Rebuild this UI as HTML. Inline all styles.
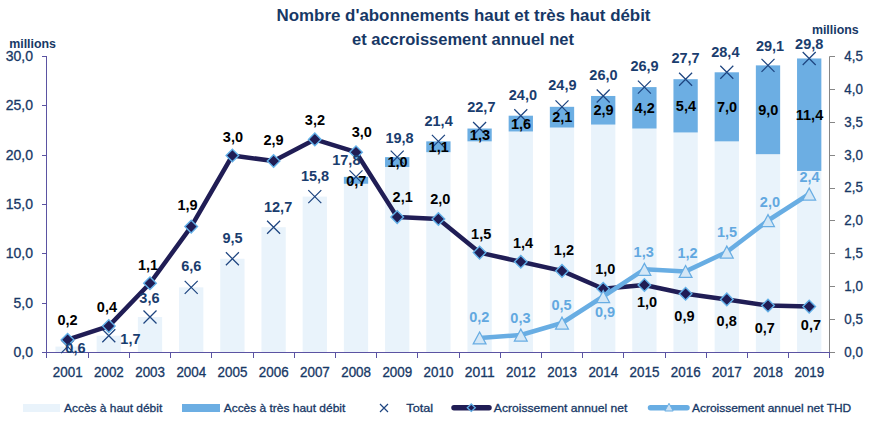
<!DOCTYPE html>
<html><head><meta charset="utf-8"><style>
html,body{margin:0;padding:0;background:#fff;}
svg{display:block;font-family:"Liberation Sans", sans-serif;}
</style></head><body>
<svg width="878" height="429" viewBox="0 0 878 429">
<rect x="55.45" y="346.58" width="24.3" height="5.42" fill="#e9f3fb"/>
<rect x="96.65" y="335.73" width="24.3" height="16.27" fill="#e9f3fb"/>
<rect x="137.85" y="316.98" width="24.3" height="35.02" fill="#e9f3fb"/>
<rect x="179.05" y="287.38" width="24.3" height="64.62" fill="#e9f3fb"/>
<rect x="220.25" y="258.77" width="24.3" height="93.23" fill="#e9f3fb"/>
<rect x="261.45" y="227.19" width="24.3" height="124.81" fill="#e9f3fb"/>
<rect x="302.65" y="196.61" width="24.3" height="155.39" fill="#e9f3fb"/>
<rect x="343.85" y="183.78" width="24.3" height="168.22" fill="#e9f3fb"/>
<rect x="343.85" y="176.87" width="24.3" height="6.91" fill="#6caee3"/>
<rect x="385.05" y="167.01" width="24.3" height="184.99" fill="#e9f3fb"/>
<rect x="385.05" y="157.14" width="24.3" height="9.87" fill="#6caee3"/>
<rect x="426.25" y="152.21" width="24.3" height="199.79" fill="#e9f3fb"/>
<rect x="426.25" y="141.35" width="24.3" height="10.85" fill="#6caee3"/>
<rect x="467.45" y="141.35" width="24.3" height="210.65" fill="#e9f3fb"/>
<rect x="467.45" y="128.53" width="24.3" height="12.83" fill="#6caee3"/>
<rect x="508.65" y="131.49" width="24.3" height="220.51" fill="#e9f3fb"/>
<rect x="508.65" y="115.70" width="24.3" height="15.79" fill="#6caee3"/>
<rect x="549.85" y="127.54" width="24.3" height="224.46" fill="#e9f3fb"/>
<rect x="549.85" y="106.82" width="24.3" height="20.72" fill="#6caee3"/>
<rect x="591.05" y="124.58" width="24.3" height="227.42" fill="#e9f3fb"/>
<rect x="591.05" y="95.97" width="24.3" height="28.61" fill="#6caee3"/>
<rect x="632.25" y="128.53" width="24.3" height="223.47" fill="#e9f3fb"/>
<rect x="632.25" y="87.09" width="24.3" height="41.44" fill="#6caee3"/>
<rect x="673.45" y="132.47" width="24.3" height="219.53" fill="#e9f3fb"/>
<rect x="673.45" y="79.19" width="24.3" height="53.28" fill="#6caee3"/>
<rect x="714.65" y="141.35" width="24.3" height="210.65" fill="#e9f3fb"/>
<rect x="714.65" y="72.29" width="24.3" height="69.07" fill="#6caee3"/>
<rect x="755.85" y="154.18" width="24.3" height="197.82" fill="#e9f3fb"/>
<rect x="755.85" y="65.38" width="24.3" height="88.80" fill="#6caee3"/>
<rect x="797.05" y="170.95" width="24.3" height="181.05" fill="#e9f3fb"/>
<rect x="797.05" y="58.47" width="24.3" height="112.48" fill="#6caee3"/>
<path d="M46.5 56.5V358M42 56.5H47M42 105.5H47M42 155.5H47M42 204.5H47M42 253.5H47M42 303.5H47M42 352.5H47" stroke="#5b53a2" stroke-width="1" fill="none"/>
<path d="M46 352.5H830M88.5 352.5V358M129.5 352.5V358M170.5 352.5V358M211.5 352.5V358M253.5 352.5V358M294.5 352.5V358M335.5 352.5V358M376.5 352.5V358M417.5 352.5V358M459.5 352.5V358M500.5 352.5V358M541.5 352.5V358M582.5 352.5V358M623.5 352.5V358M665.5 352.5V358M706.5 352.5V358M747.5 352.5V358M788.5 352.5V358M829.5 352.5V358" stroke="#5b53a2" stroke-width="1" fill="none"/>
<path d="M829.5 56.5V352M829.5 56.5H835M829.5 89.5H835M829.5 122.5H835M829.5 155.5H835M829.5 188.5H835M829.5 220.5H835M829.5 253.5H835M829.5 286.5H835M829.5 319.5H835" stroke="#868686" stroke-width="1" fill="none"/>
<path d="M830 352.5H835" stroke="#868686" stroke-width="1" fill="none"/>
<path d="M61.10 340.08L74.10 353.08M74.10 340.08L61.10 353.08" stroke="#1e4580" stroke-width="1.25" fill="none"/>
<path d="M102.30 329.23L115.30 342.23M115.30 329.23L102.30 342.23" stroke="#1e4580" stroke-width="1.25" fill="none"/>
<path d="M143.50 310.48L156.50 323.48M156.50 310.48L143.50 323.48" stroke="#1e4580" stroke-width="1.25" fill="none"/>
<path d="M184.70 280.88L197.70 293.88M197.70 280.88L184.70 293.88" stroke="#1e4580" stroke-width="1.25" fill="none"/>
<path d="M225.90 252.27L238.90 265.27M238.90 252.27L225.90 265.27" stroke="#1e4580" stroke-width="1.25" fill="none"/>
<path d="M267.10 220.69L280.10 233.69M280.10 220.69L267.10 233.69" stroke="#1e4580" stroke-width="1.25" fill="none"/>
<path d="M308.30 190.11L321.30 203.11M321.30 190.11L308.30 203.11" stroke="#1e4580" stroke-width="1.25" fill="none"/>
<path d="M349.50 170.37L362.50 183.37M362.50 170.37L349.50 183.37" stroke="#1e4580" stroke-width="1.25" fill="none"/>
<path d="M390.70 150.64L403.70 163.64M403.70 150.64L390.70 163.64" stroke="#1e4580" stroke-width="1.25" fill="none"/>
<path d="M431.90 134.85L444.90 147.85M444.90 134.85L431.90 147.85" stroke="#1e4580" stroke-width="1.25" fill="none"/>
<path d="M473.10 122.03L486.10 135.03M486.10 122.03L473.10 135.03" stroke="#1e4580" stroke-width="1.25" fill="none"/>
<path d="M514.30 109.20L527.30 122.20M527.30 109.20L514.30 122.20" stroke="#1e4580" stroke-width="1.25" fill="none"/>
<path d="M555.50 100.32L568.50 113.32M568.50 100.32L555.50 113.32" stroke="#1e4580" stroke-width="1.25" fill="none"/>
<path d="M596.70 89.47L609.70 102.47M609.70 89.47L596.70 102.47" stroke="#1e4580" stroke-width="1.25" fill="none"/>
<path d="M637.90 80.59L650.90 93.59M650.90 80.59L637.90 93.59" stroke="#1e4580" stroke-width="1.25" fill="none"/>
<path d="M679.10 72.69L692.10 85.69M692.10 72.69L679.10 85.69" stroke="#1e4580" stroke-width="1.25" fill="none"/>
<path d="M720.30 65.79L733.30 78.79M733.30 65.79L720.30 78.79" stroke="#1e4580" stroke-width="1.25" fill="none"/>
<path d="M761.50 58.88L774.50 71.88M774.50 58.88L761.50 71.88" stroke="#1e4580" stroke-width="1.25" fill="none"/>
<path d="M802.70 51.97L815.70 64.97M815.70 51.97L802.70 64.97" stroke="#1e4580" stroke-width="1.25" fill="none"/>
<polyline points="67.60,339.70 108.80,326.10 150.00,283.30 191.20,226.60 232.40,155.50 273.60,161.00 314.80,139.40 356.00,152.20 397.20,217.10 438.40,219.00 479.60,252.60 520.80,261.80 562.00,270.90 603.20,288.80 644.40,285.00 685.60,293.80 726.80,299.40 768.00,305.50 809.20,306.60" stroke="#201d55" stroke-width="4.5" fill="none" stroke-linejoin="round"/>
<path d="M67.60 333.40L73.90 339.70L67.60 346.00L61.30 339.70Z" fill="#201d55" stroke="#62b0e8" stroke-width="1.4"/>
<path d="M108.80 319.80L115.10 326.10L108.80 332.40L102.50 326.10Z" fill="#201d55" stroke="#62b0e8" stroke-width="1.4"/>
<path d="M150.00 277.00L156.30 283.30L150.00 289.60L143.70 283.30Z" fill="#201d55" stroke="#62b0e8" stroke-width="1.4"/>
<path d="M191.20 220.30L197.50 226.60L191.20 232.90L184.90 226.60Z" fill="#201d55" stroke="#62b0e8" stroke-width="1.4"/>
<path d="M232.40 149.20L238.70 155.50L232.40 161.80L226.10 155.50Z" fill="#201d55" stroke="#62b0e8" stroke-width="1.4"/>
<path d="M273.60 154.70L279.90 161.00L273.60 167.30L267.30 161.00Z" fill="#201d55" stroke="#62b0e8" stroke-width="1.4"/>
<path d="M314.80 133.10L321.10 139.40L314.80 145.70L308.50 139.40Z" fill="#201d55" stroke="#62b0e8" stroke-width="1.4"/>
<path d="M356.00 145.90L362.30 152.20L356.00 158.50L349.70 152.20Z" fill="#201d55" stroke="#62b0e8" stroke-width="1.4"/>
<path d="M397.20 210.80L403.50 217.10L397.20 223.40L390.90 217.10Z" fill="#201d55" stroke="#62b0e8" stroke-width="1.4"/>
<path d="M438.40 212.70L444.70 219.00L438.40 225.30L432.10 219.00Z" fill="#201d55" stroke="#62b0e8" stroke-width="1.4"/>
<path d="M479.60 246.30L485.90 252.60L479.60 258.90L473.30 252.60Z" fill="#201d55" stroke="#62b0e8" stroke-width="1.4"/>
<path d="M520.80 255.50L527.10 261.80L520.80 268.10L514.50 261.80Z" fill="#201d55" stroke="#62b0e8" stroke-width="1.4"/>
<path d="M562.00 264.60L568.30 270.90L562.00 277.20L555.70 270.90Z" fill="#201d55" stroke="#62b0e8" stroke-width="1.4"/>
<path d="M603.20 282.50L609.50 288.80L603.20 295.10L596.90 288.80Z" fill="#201d55" stroke="#62b0e8" stroke-width="1.4"/>
<path d="M644.40 278.70L650.70 285.00L644.40 291.30L638.10 285.00Z" fill="#201d55" stroke="#62b0e8" stroke-width="1.4"/>
<path d="M685.60 287.50L691.90 293.80L685.60 300.10L679.30 293.80Z" fill="#201d55" stroke="#62b0e8" stroke-width="1.4"/>
<path d="M726.80 293.10L733.10 299.40L726.80 305.70L720.50 299.40Z" fill="#201d55" stroke="#62b0e8" stroke-width="1.4"/>
<path d="M768.00 299.20L774.30 305.50L768.00 311.80L761.70 305.50Z" fill="#201d55" stroke="#62b0e8" stroke-width="1.4"/>
<path d="M809.20 300.30L815.50 306.60L809.20 312.90L802.90 306.60Z" fill="#201d55" stroke="#62b0e8" stroke-width="1.4"/>
<polyline points="479.60,337.90 520.80,335.00 562.00,323.00 603.20,296.50 644.40,269.30 685.60,271.40 726.80,252.00 768.00,220.50 809.20,194.00" stroke="#68ade3" stroke-width="4.5" fill="none" stroke-linejoin="round"/>
<path d="M479.60 332.00L486.00 343.90L473.20 343.90Z" fill="#d4e7f6" stroke="#68ade3" stroke-width="1.25" stroke-linejoin="miter"/>
<path d="M520.80 329.10L527.20 341.00L514.40 341.00Z" fill="#d4e7f6" stroke="#68ade3" stroke-width="1.25" stroke-linejoin="miter"/>
<path d="M562.00 317.10L568.40 329.00L555.60 329.00Z" fill="#d4e7f6" stroke="#68ade3" stroke-width="1.25" stroke-linejoin="miter"/>
<path d="M603.20 290.60L609.60 302.50L596.80 302.50Z" fill="#d4e7f6" stroke="#68ade3" stroke-width="1.25" stroke-linejoin="miter"/>
<path d="M644.40 263.40L650.80 275.30L638.00 275.30Z" fill="#d4e7f6" stroke="#68ade3" stroke-width="1.25" stroke-linejoin="miter"/>
<path d="M685.60 265.50L692.00 277.40L679.20 277.40Z" fill="#d4e7f6" stroke="#68ade3" stroke-width="1.25" stroke-linejoin="miter"/>
<path d="M726.80 246.10L733.20 258.00L720.40 258.00Z" fill="#d4e7f6" stroke="#68ade3" stroke-width="1.25" stroke-linejoin="miter"/>
<path d="M768.00 214.60L774.40 226.50L761.60 226.50Z" fill="#d4e7f6" stroke="#68ade3" stroke-width="1.25" stroke-linejoin="miter"/>
<path d="M809.20 188.10L815.60 200.00L802.80 200.00Z" fill="#d4e7f6" stroke="#68ade3" stroke-width="1.25" stroke-linejoin="miter"/>
<text x="75.45" y="353.00" font-size="14.5" font-weight="bold" fill="#1a3d6e" text-anchor="middle" >0,6</text>
<text x="130.40" y="343.80" font-size="14.5" font-weight="bold" fill="#1a3d6e" text-anchor="middle" >1,7</text>
<text x="149.45" y="302.80" font-size="14.5" font-weight="bold" fill="#1a3d6e" text-anchor="middle" >3,6</text>
<text x="191.25" y="270.90" font-size="14.5" font-weight="bold" fill="#1a3d6e" text-anchor="middle" >6,6</text>
<text x="232.50" y="242.90" font-size="14.5" font-weight="bold" fill="#1a3d6e" text-anchor="middle" >9,5</text>
<text x="278.10" y="211.90" font-size="14.5" font-weight="bold" fill="#1a3d6e" text-anchor="middle" >12,7</text>
<text x="315.05" y="181.40" font-size="14.5" font-weight="bold" fill="#1a3d6e" text-anchor="middle" >15,8</text>
<text x="346.35" y="164.70" font-size="14.5" font-weight="bold" fill="#1a3d6e" text-anchor="middle" >17,8</text>
<text x="399.50" y="142.60" font-size="14.5" font-weight="bold" fill="#1a3d6e" text-anchor="middle" >19,8</text>
<text x="438.60" y="125.70" font-size="14.5" font-weight="bold" fill="#1a3d6e" text-anchor="middle" >21,4</text>
<text x="481.35" y="111.80" font-size="14.5" font-weight="bold" fill="#1a3d6e" text-anchor="middle" >22,7</text>
<text x="522.90" y="99.70" font-size="14.5" font-weight="bold" fill="#1a3d6e" text-anchor="middle" >24,0</text>
<text x="562.40" y="89.90" font-size="14.5" font-weight="bold" fill="#1a3d6e" text-anchor="middle" >24,9</text>
<text x="603.45" y="79.70" font-size="14.5" font-weight="bold" fill="#1a3d6e" text-anchor="middle" >26,0</text>
<text x="644.50" y="70.80" font-size="14.5" font-weight="bold" fill="#1a3d6e" text-anchor="middle" >26,9</text>
<text x="685.50" y="62.60" font-size="14.5" font-weight="bold" fill="#1a3d6e" text-anchor="middle" >27,7</text>
<text x="725.35" y="57.40" font-size="14.5" font-weight="bold" fill="#1a3d6e" text-anchor="middle" >28,4</text>
<text x="770.00" y="50.70" font-size="14.5" font-weight="bold" fill="#1a3d6e" text-anchor="middle" >29,1</text>
<text x="809.20" y="48.50" font-size="14.5" font-weight="bold" fill="#1a3d6e" text-anchor="middle" >29,8</text>
<text x="356.30" y="185.53" font-size="14.5" font-weight="bold" fill="#000000" text-anchor="middle" >0,7</text>
<text x="397.50" y="167.27" font-size="14.5" font-weight="bold" fill="#000000" text-anchor="middle" >1,0</text>
<text x="438.70" y="151.98" font-size="14.5" font-weight="bold" fill="#000000" text-anchor="middle" >1,1</text>
<text x="479.90" y="140.14" font-size="14.5" font-weight="bold" fill="#000000" text-anchor="middle" >1,3</text>
<text x="521.10" y="128.79" font-size="14.5" font-weight="bold" fill="#000000" text-anchor="middle" >1,6</text>
<text x="562.30" y="122.38" font-size="14.5" font-weight="bold" fill="#000000" text-anchor="middle" >2,1</text>
<text x="603.50" y="115.47" font-size="14.5" font-weight="bold" fill="#000000" text-anchor="middle" >2,9</text>
<text x="644.70" y="113.01" font-size="14.5" font-weight="bold" fill="#000000" text-anchor="middle" >4,2</text>
<text x="685.90" y="111.03" font-size="14.5" font-weight="bold" fill="#000000" text-anchor="middle" >5,4</text>
<text x="727.10" y="112.02" font-size="14.5" font-weight="bold" fill="#000000" text-anchor="middle" >7,0</text>
<text x="768.30" y="114.98" font-size="14.5" font-weight="bold" fill="#000000" text-anchor="middle" >9,0</text>
<text x="809.50" y="119.91" font-size="14.5" font-weight="bold" fill="#000000" text-anchor="middle" >11,4</text>
<text x="67.55" y="325.00" font-size="14.5" font-weight="bold" fill="#000000" text-anchor="middle" >0,2</text>
<text x="106.95" y="311.50" font-size="14.5" font-weight="bold" fill="#000000" text-anchor="middle" >0,4</text>
<text x="148.05" y="269.90" font-size="14.5" font-weight="bold" fill="#000000" text-anchor="middle" >1,1</text>
<text x="187.50" y="210.30" font-size="14.5" font-weight="bold" fill="#000000" text-anchor="middle" >1,9</text>
<text x="232.95" y="141.80" font-size="14.5" font-weight="bold" fill="#000000" text-anchor="middle" >3,0</text>
<text x="273.55" y="145.00" font-size="14.5" font-weight="bold" fill="#000000" text-anchor="middle" >2,9</text>
<text x="314.90" y="125.40" font-size="14.5" font-weight="bold" fill="#000000" text-anchor="middle" >3,2</text>
<text x="361.85" y="137.30" font-size="14.5" font-weight="bold" fill="#000000" text-anchor="middle" >3,0</text>
<text x="402.70" y="201.70" font-size="14.5" font-weight="bold" fill="#000000" text-anchor="middle" >2,1</text>
<text x="440.35" y="204.00" font-size="14.5" font-weight="bold" fill="#000000" text-anchor="middle" >2,0</text>
<text x="481.15" y="239.00" font-size="14.5" font-weight="bold" fill="#000000" text-anchor="middle" >1,5</text>
<text x="523.00" y="247.80" font-size="14.5" font-weight="bold" fill="#000000" text-anchor="middle" >1,4</text>
<text x="563.95" y="254.80" font-size="14.5" font-weight="bold" fill="#000000" text-anchor="middle" >1,2</text>
<text x="605.25" y="273.70" font-size="14.5" font-weight="bold" fill="#000000" text-anchor="middle" >1,0</text>
<text x="647.10" y="306.90" font-size="14.5" font-weight="bold" fill="#000000" text-anchor="middle" >1,0</text>
<text x="684.40" y="320.50" font-size="14.5" font-weight="bold" fill="#000000" text-anchor="middle" >0,9</text>
<text x="726.65" y="326.20" font-size="14.5" font-weight="bold" fill="#000000" text-anchor="middle" >0,8</text>
<text x="764.85" y="333.00" font-size="14.5" font-weight="bold" fill="#000000" text-anchor="middle" >0,7</text>
<text x="810.95" y="330.30" font-size="14.5" font-weight="bold" fill="#000000" text-anchor="middle" >0,7</text>
<text x="479.35" y="321.90" font-size="14.5" font-weight="bold" fill="#62a8e0" text-anchor="middle" >0,2</text>
<text x="520.40" y="322.80" font-size="14.5" font-weight="bold" fill="#62a8e0" text-anchor="middle" >0,3</text>
<text x="561.60" y="310.00" font-size="14.5" font-weight="bold" fill="#62a8e0" text-anchor="middle" >0,5</text>
<text x="605.00" y="316.60" font-size="14.5" font-weight="bold" fill="#62a8e0" text-anchor="middle" >0,9</text>
<text x="643.65" y="256.50" font-size="14.5" font-weight="bold" fill="#62a8e0" text-anchor="middle" >1,3</text>
<text x="687.50" y="258.40" font-size="14.5" font-weight="bold" fill="#62a8e0" text-anchor="middle" >1,2</text>
<text x="727.05" y="237.10" font-size="14.5" font-weight="bold" fill="#62a8e0" text-anchor="middle" >1,5</text>
<text x="769.95" y="207.30" font-size="14.5" font-weight="bold" fill="#62a8e0" text-anchor="middle" >2,0</text>
<text x="809.55" y="181.50" font-size="14.5" font-weight="bold" fill="#62a8e0" text-anchor="middle" >2,4</text>
<text x="33.00" y="60.90" font-size="14" font-weight="normal" fill="#173866" stroke="#173866" stroke-width="0.3" text-anchor="end" >30,0</text>
<text x="33.00" y="110.23" font-size="14" font-weight="normal" fill="#173866" stroke="#173866" stroke-width="0.3" text-anchor="end" >25,0</text>
<text x="33.00" y="159.57" font-size="14" font-weight="normal" fill="#173866" stroke="#173866" stroke-width="0.3" text-anchor="end" >20,0</text>
<text x="33.00" y="208.90" font-size="14" font-weight="normal" fill="#173866" stroke="#173866" stroke-width="0.3" text-anchor="end" >15,0</text>
<text x="33.00" y="258.23" font-size="14" font-weight="normal" fill="#173866" stroke="#173866" stroke-width="0.3" text-anchor="end" >10,0</text>
<text x="33.00" y="307.57" font-size="14" font-weight="normal" fill="#173866" stroke="#173866" stroke-width="0.3" text-anchor="end" >5,0</text>
<text x="33.00" y="356.90" font-size="14" font-weight="normal" fill="#173866" stroke="#173866" stroke-width="0.3" text-anchor="end" >0,0</text>
<text x="844.30" y="60.90" font-size="14" font-weight="normal" fill="#173866" stroke="#173866" stroke-width="0.3" text-anchor="start" textLength="18.6" lengthAdjust="spacingAndGlyphs">4,5</text>
<text x="844.30" y="93.79" font-size="14" font-weight="normal" fill="#173866" stroke="#173866" stroke-width="0.3" text-anchor="start" textLength="18.6" lengthAdjust="spacingAndGlyphs">4,0</text>
<text x="844.30" y="126.68" font-size="14" font-weight="normal" fill="#173866" stroke="#173866" stroke-width="0.3" text-anchor="start" textLength="18.6" lengthAdjust="spacingAndGlyphs">3,5</text>
<text x="844.30" y="159.57" font-size="14" font-weight="normal" fill="#173866" stroke="#173866" stroke-width="0.3" text-anchor="start" textLength="18.6" lengthAdjust="spacingAndGlyphs">3,0</text>
<text x="844.30" y="192.46" font-size="14" font-weight="normal" fill="#173866" stroke="#173866" stroke-width="0.3" text-anchor="start" textLength="18.6" lengthAdjust="spacingAndGlyphs">2,5</text>
<text x="844.30" y="225.34" font-size="14" font-weight="normal" fill="#173866" stroke="#173866" stroke-width="0.3" text-anchor="start" textLength="18.6" lengthAdjust="spacingAndGlyphs">2,0</text>
<text x="844.30" y="258.23" font-size="14" font-weight="normal" fill="#173866" stroke="#173866" stroke-width="0.3" text-anchor="start" textLength="18.6" lengthAdjust="spacingAndGlyphs">1,5</text>
<text x="844.30" y="291.12" font-size="14" font-weight="normal" fill="#173866" stroke="#173866" stroke-width="0.3" text-anchor="start" textLength="18.6" lengthAdjust="spacingAndGlyphs">1,0</text>
<text x="844.30" y="324.01" font-size="14" font-weight="normal" fill="#173866" stroke="#173866" stroke-width="0.3" text-anchor="start" textLength="18.6" lengthAdjust="spacingAndGlyphs">0,5</text>
<text x="844.30" y="356.90" font-size="14" font-weight="normal" fill="#173866" stroke="#173866" stroke-width="0.3" text-anchor="start" textLength="18.6" lengthAdjust="spacingAndGlyphs">0,0</text>
<text x="67.70" y="376.90" font-size="13.8" font-weight="normal" fill="#173866" stroke="#173866" stroke-width="0.3" text-anchor="middle" textLength="29.8" lengthAdjust="spacingAndGlyphs">2001</text>
<text x="108.90" y="376.90" font-size="13.8" font-weight="normal" fill="#173866" stroke="#173866" stroke-width="0.3" text-anchor="middle" textLength="29.8" lengthAdjust="spacingAndGlyphs">2002</text>
<text x="150.10" y="376.90" font-size="13.8" font-weight="normal" fill="#173866" stroke="#173866" stroke-width="0.3" text-anchor="middle" textLength="29.8" lengthAdjust="spacingAndGlyphs">2003</text>
<text x="191.30" y="376.90" font-size="13.8" font-weight="normal" fill="#173866" stroke="#173866" stroke-width="0.3" text-anchor="middle" textLength="29.8" lengthAdjust="spacingAndGlyphs">2004</text>
<text x="232.50" y="376.90" font-size="13.8" font-weight="normal" fill="#173866" stroke="#173866" stroke-width="0.3" text-anchor="middle" textLength="29.8" lengthAdjust="spacingAndGlyphs">2005</text>
<text x="273.70" y="376.90" font-size="13.8" font-weight="normal" fill="#173866" stroke="#173866" stroke-width="0.3" text-anchor="middle" textLength="29.8" lengthAdjust="spacingAndGlyphs">2006</text>
<text x="314.90" y="376.90" font-size="13.8" font-weight="normal" fill="#173866" stroke="#173866" stroke-width="0.3" text-anchor="middle" textLength="29.8" lengthAdjust="spacingAndGlyphs">2007</text>
<text x="356.10" y="376.90" font-size="13.8" font-weight="normal" fill="#173866" stroke="#173866" stroke-width="0.3" text-anchor="middle" textLength="29.8" lengthAdjust="spacingAndGlyphs">2008</text>
<text x="397.30" y="376.90" font-size="13.8" font-weight="normal" fill="#173866" stroke="#173866" stroke-width="0.3" text-anchor="middle" textLength="29.8" lengthAdjust="spacingAndGlyphs">2009</text>
<text x="438.50" y="376.90" font-size="13.8" font-weight="normal" fill="#173866" stroke="#173866" stroke-width="0.3" text-anchor="middle" textLength="29.8" lengthAdjust="spacingAndGlyphs">2010</text>
<text x="479.70" y="376.90" font-size="13.8" font-weight="normal" fill="#173866" stroke="#173866" stroke-width="0.3" text-anchor="middle" textLength="29.8" lengthAdjust="spacingAndGlyphs">2011</text>
<text x="520.90" y="376.90" font-size="13.8" font-weight="normal" fill="#173866" stroke="#173866" stroke-width="0.3" text-anchor="middle" textLength="29.8" lengthAdjust="spacingAndGlyphs">2012</text>
<text x="562.10" y="376.90" font-size="13.8" font-weight="normal" fill="#173866" stroke="#173866" stroke-width="0.3" text-anchor="middle" textLength="29.8" lengthAdjust="spacingAndGlyphs">2013</text>
<text x="603.30" y="376.90" font-size="13.8" font-weight="normal" fill="#173866" stroke="#173866" stroke-width="0.3" text-anchor="middle" textLength="29.8" lengthAdjust="spacingAndGlyphs">2014</text>
<text x="644.50" y="376.90" font-size="13.8" font-weight="normal" fill="#173866" stroke="#173866" stroke-width="0.3" text-anchor="middle" textLength="29.8" lengthAdjust="spacingAndGlyphs">2015</text>
<text x="685.70" y="376.90" font-size="13.8" font-weight="normal" fill="#173866" stroke="#173866" stroke-width="0.3" text-anchor="middle" textLength="29.8" lengthAdjust="spacingAndGlyphs">2016</text>
<text x="726.90" y="376.90" font-size="13.8" font-weight="normal" fill="#173866" stroke="#173866" stroke-width="0.3" text-anchor="middle" textLength="29.8" lengthAdjust="spacingAndGlyphs">2017</text>
<text x="768.10" y="376.90" font-size="13.8" font-weight="normal" fill="#173866" stroke="#173866" stroke-width="0.3" text-anchor="middle" textLength="29.8" lengthAdjust="spacingAndGlyphs">2018</text>
<text x="809.30" y="376.90" font-size="13.8" font-weight="normal" fill="#173866" stroke="#173866" stroke-width="0.3" text-anchor="middle" textLength="29.8" lengthAdjust="spacingAndGlyphs">2019</text>
<text x="9.20" y="47.80" font-size="12.4" font-weight="bold" fill="#173866" text-anchor="start" >millions</text>
<text x="811.90" y="33.80" font-size="12.4" font-weight="bold" fill="#173866" text-anchor="start" >millions</text>
<text x="276.50" y="21.00" font-size="16" font-weight="bold" fill="#173866" text-anchor="start" textLength="374" lengthAdjust="spacingAndGlyphs">Nombre d'abonnements haut et très haut débit</text>
<text x="352.00" y="44.80" font-size="16" font-weight="bold" fill="#173866" text-anchor="start" textLength="222" lengthAdjust="spacingAndGlyphs">et accroissement annuel net</text>
<rect x="23" y="404" width="37" height="8" fill="#e9f3fb"/>
<rect x="182" y="404" width="38" height="8" fill="#6caee3"/>
<text x="64.00" y="411.70" font-size="11.5" font-weight="normal" fill="#173866" stroke="#173866" stroke-width="0.3" text-anchor="start" textLength="98.2" lengthAdjust="spacingAndGlyphs">Accès à haut débit</text>
<text x="223.70" y="411.70" font-size="11.5" font-weight="normal" fill="#173866" stroke="#173866" stroke-width="0.3" text-anchor="start" textLength="121.6" lengthAdjust="spacingAndGlyphs">Accès à très haut débit</text>
<path d="M380 404L388 412M388 404L380 412" stroke="#1e4580" stroke-width="1.2"/>
<text x="406.30" y="411.70" font-size="11.5" font-weight="normal" fill="#173866" stroke="#173866" stroke-width="0.3" text-anchor="start" textLength="26.8" lengthAdjust="spacingAndGlyphs">Total</text>
<path d="M454 407.7H489" stroke="#201d55" stroke-width="5.5" stroke-linecap="round"/>
<path d="M471.3 404.0L475.3 407.7L471.3 411.4L467.3 407.7Z" fill="#201d55" stroke="#62b0e8" stroke-width="1.3"/>
<text x="493.80" y="411.70" font-size="11.5" font-weight="normal" fill="#173866" stroke="#173866" stroke-width="0.3" text-anchor="start" textLength="133.6" lengthAdjust="spacingAndGlyphs">Acroissement annuel net</text>
<path d="M650.5 407.7H687" stroke="#68ade3" stroke-width="5.5" stroke-linecap="round"/>
<path d="M669 403.3L673.2 411L664.8 411Z" fill="#cbe1f4" stroke="#68ade3" stroke-width="1"/>
<text x="692.00" y="411.70" font-size="11.5" font-weight="normal" fill="#173866" stroke="#173866" stroke-width="0.3" text-anchor="start" textLength="159.2" lengthAdjust="spacingAndGlyphs">Acroissement annuel net THD</text>
</svg>
</body></html>
